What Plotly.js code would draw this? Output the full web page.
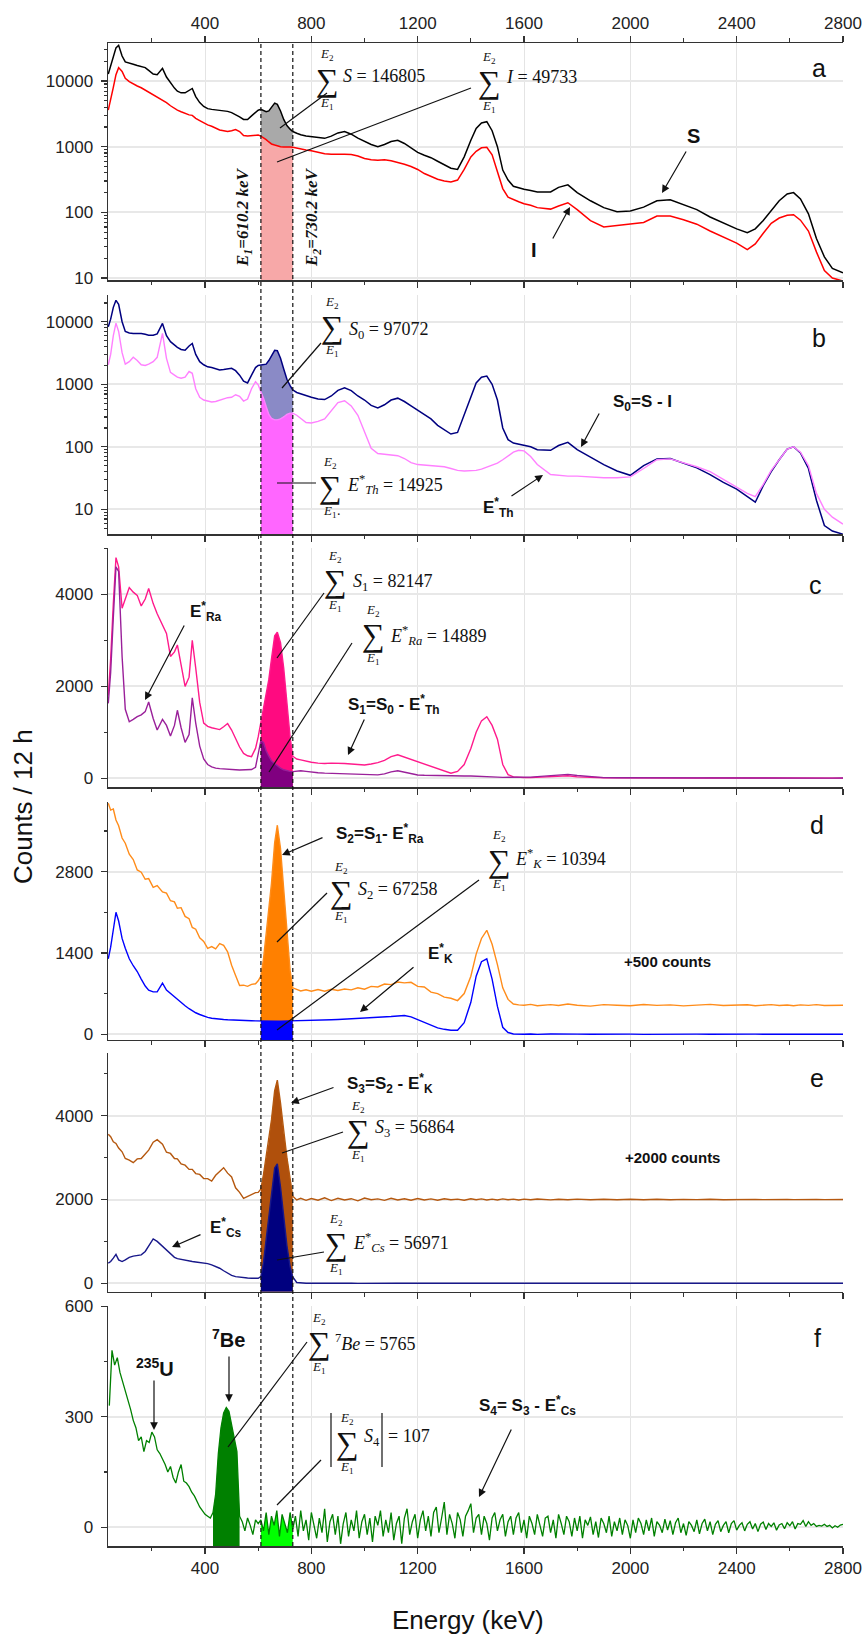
<!DOCTYPE html>
<html><head><meta charset="utf-8">
<script src="https://cdn.plot.ly/plotly-3.0.1.min.js"></script>
<style>html,body{margin:0;padding:0;background:#fff}#chart{width:868px;height:1637px}</style>
</head><body><div id="chart"></div>
<script>
// ---------------- DATA ----------------
const energy = [
 36,45,55,65,75,88,100,115,130,145,
 160,175,188,205,220,240,255,270,285,296,
 310,325,340,352,365,380,395,410,425,440,
 455,470,485,500,515,530,545,560,575,590,
 600,610,620,630,640,650,662,672,684,696,
 708,720,730,745,760,780,800,825,850,875,
 900,925,950,975,1000,1025,1050,1075,1100,1125,
 1150,1175,1200,1225,1250,1275,1300,1325,1350,1375,
 1400,1420,1440,1460,1480,1500,1520,1540,1560,1580,
 1600,1625,1650,1700,1730,1765,1800,1850,1900,1950,
 2000,2050,2100,2150,2200,2250,2300,2350,2400,2440,
 2470,2500,2530,2560,2590,2614,2640,2670,2700,2730,
 2760,2800];

// panel a
const S = [
 12800,17000,25000,32000,35000,24000,19500,18500,18000,17200,
 16800,16000,14500,12800,12500,15600,11500,9300,7800,7000,
 6600,6600,7200,7700,5800,4700,4100,3800,3700,3650,
 3600,3550,3450,3300,3100,2850,2600,2600,2950,3300,
 3600,3700,3500,3400,3500,4000,4600,4400,3500,2600,
 2100,1850,1700,1600,1520,1460,1430,1380,1340,1450,
 1620,1700,1550,1350,1200,1080,1000,1080,1200,1250,
 1120,950,820,740,680,600,530,470,450,700,
 1250,1900,2300,2400,1750,1000,440,310,250,235,
 225,215,205,205,240,262,200,150,118,102,
 105,120,150,155,132,110,85,68,56,49,
 56,75,105,150,190,200,160,95,40,21,
 14,12];
const I = [
 3600,5000,8000,12500,16000,14000,11000,9800,9000,8400,
 7900,7300,6800,6200,5700,5200,4700,4200,3800,3600,
 3400,3200,3050,3000,2700,2500,2300,2150,2050,1900,
 1800,1750,1700,1750,1820,1700,1480,1450,1480,1520,
 1500,1450,1380,1280,1180,1100,1060,1030,1000,990,
 1000,990,980,950,920,890,870,830,780,770,
 775,770,760,720,660,630,620,630,610,580,
 540,500,450,390,350,320,300,290,310,450,
 700,850,960,980,750,420,230,170,155,145,
 135,128,118,112,125,140,110,75,60,63,
 66,70,88,88,77,66,52,42,34,27,
 33,48,68,82,90,92,76,52,25,13,
 10,9];

// panel b
const S0 = [
 8300,11000,17000,22000,19000,10000,7000,6600,6500,6500,
 6500,6300,6100,6100,6400,9400,6000,4800,4200,3900,
 3600,3500,4100,4500,3000,2300,2050,1900,1850,1750,
 1700,1720,1780,1800,1650,1400,1120,1050,1400,1850,
 2000,2050,2050,2100,2400,2900,3500,3450,2600,1750,
 1200,950,810,740,700,660,620,580,570,650,
 800,880,790,650,560,460,420,470,560,600,
 530,450,380,330,280,220,185,160,170,320,
 650,1050,1300,1350,1000,560,200,130,115,110,
 105,100,90,88,105,118,90,68,52,41,
 35,50,64,65,55,46,36,27,21,16,
 13,24,40,62,92,100,80,45,14,5.5,
 4.5,4];
const EThStar = [
 2040,3000,6000,9500,7000,3200,2100,2300,2700,2400,
 2050,2000,2100,2300,2700,6500,2600,1550,1400,1300,
 1250,1300,1600,1500,850,620,560,540,520,530,
 560,590,610,620,680,640,540,580,850,1100,
 980,760,600,440,330,285,270,270,280,300,
 330,345,345,320,285,245,240,255,280,380,
 510,545,450,320,180,95,78,76,75,72,
 65,56,52,51,50,49,48,45,42,41,
 41,42,44,47,50,55,62,72,82,88,
 86,70,52,36,35,34,34,33,32,32,
 33,45,62,64,56,48,40,30,23,18,
 16,25,42,62,92,100,82,50,18,10,
 7.5,5.8];

// panel c
const S1 = [
 1800,2600,3800,4800,4600,3700,3900,4150,4050,3980,
 3750,3900,4130,3800,3580,3350,3150,2650,2750,2900,
 2500,2000,2200,3000,2400,1650,1200,1130,1100,1080,
 1060,1120,1190,1050,850,680,540,490,470,650,
 900,1200,1500,1800,2150,2600,3100,3180,2950,2400,
 1600,900,480,420,400,370,350,330,320,330,
 330,320,310,300,290,310,340,390,470,510,
 460,410,360,300,250,210,150,110,150,300,
 650,1000,1250,1340,1150,850,300,80,30,20,
 15,15,20,30,45,55,30,15,10,8,
 5,6,4,5,7,4,5,6,4,5,
 6,4,5,7,5,6,4,5,3,4,
 3,4];
const ERaStar = [
 1630,2300,3500,4600,4500,2650,1500,1230,1280,1340,
 1380,1450,1660,1300,1050,1280,1150,920,1150,1480,
 1100,780,950,1750,1200,700,420,300,250,220,
 210,200,195,190,185,180,180,180,190,240,
 500,820,780,600,480,380,320,270,220,185,
 160,150,145,160,165,150,130,120,112,108,
 100,95,88,80,75,72,75,95,140,165,
 130,90,72,65,60,58,55,52,50,50,
 50,48,45,42,35,25,20,18,18,20,
 22,25,35,60,80,85,60,30,15,10,
 8,7,6,7,5,6,5,6,5,4,
 5,6,4,5,6,4,5,4,5,4,
 4,5];

// panel d (S2 shown shifted by +500 counts)
const S2plus500 = [
 3980,3860,3880,3690,3590,3380,3290,3100,3010,2830,
 2790,2670,2680,2530,2560,2450,2430,2300,2280,2170,
 2180,2030,1990,1840,1810,1660,1600,1480,1510,1470,
 1560,1530,1420,1190,1010,840,845,825,860,870,
 920,1000,1300,1700,2100,2600,3300,3600,3200,2500,
 1750,1100,800,775,745,765,740,770,740,775,
 755,780,765,800,775,825,815,865,855,900,
 885,895,825,815,725,700,640,620,580,700,
 1000,1380,1650,1790,1550,1200,800,600,520,505,
 500,515,490,510,495,520,500,485,510,500,
 490,512,498,505,488,502,515,495,500,508,
 492,500,510,495,503,490,505,498,510,494,
 502,500];
const EKStar = [
 1300,1500,1800,2100,1950,1650,1480,1300,1180,1080,
 950,830,760,730,730,880,760,700,640,600,
 540,490,440,400,370,340,310,290,275,265,
 262,255,250,245,240,238,236,235,232,230,
 228,226,225,225,224,224,225,225,226,227,
 228,230,232,235,238,240,243,245,248,250,
 255,260,265,270,278,285,290,295,305,315,
 322,300,250,200,150,110,85,68,70,200,
 550,1000,1250,1300,950,480,120,30,5,0,
 0,3,-2,4,0,5,2,-1,3,0,
 2,-2,1,4,0,2,-1,3,0,1,
 2,0,3,-1,2,0,1,3,0,2,
 1,0];

// panel e (S3 shown shifted by +2000 counts)
const S3plus2000 = [
 3560,3500,3380,3340,3230,3140,2980,2940,2880,2970,
 2980,3100,3180,3370,3430,3320,3130,3100,2980,2970,
 2850,2820,2720,2720,2620,2600,2500,2500,2440,2580,
 2680,2760,2630,2540,2280,2170,2030,2075,2105,2165,
 2170,2250,2600,3000,3400,3900,4600,4850,4300,3600,
 3000,2500,2080,1990,2030,1980,2025,1985,2040,1975,
 2030,1990,2020,1970,2035,1995,2015,1980,2030,1990,
 2020,1985,2025,1990,2015,1985,2020,1995,2010,1985,
 2020,1995,2015,1990,2010,1990,2015,1995,2010,1990,
 2010,1995,2012,1992,2008,1996,2010,1994,2008,1995,
 2006,1996,2008,1995,2005,1997,2006,1996,2004,1997,
 2004,1998,2003,1997,2004,1998,2003,1998,2002,1999,
 2002,2000];
const ECsStar = [
 480,520,600,690,560,520,560,620,650,660,
 680,760,900,1060,1000,880,800,700,620,590,
 570,550,530,520,510,500,490,470,440,400,
 360,300,240,190,160,145,135,128,122,120,
 120,160,500,1050,1600,2150,2750,2850,2300,1600,
 900,400,150,20,5,2,0,3,-2,2,
 0,3,1,-1,2,0,3,1,0,2,
 1,0,2,-1,3,0,1,2,0,1,
 2,0,1,3,0,1,-1,2,0,1,
 0,2,1,0,3,1,0,2,1,0,
 1,2,0,1,0,2,1,0,1,2,
 0,1,2,0,1,0,2,1,0,1,
 0,1];

// panel f
const energyF = [
 40,50,60,70,80,90,100,110,120,130,
 140,150,160,170,180,190,200,210,220,230,
 240,250,260,270,280,290,300,310,320,330,
 340,350,360,370,380,390,400,410,420,430,
 440,450,460,470,480,490,500,510,520,530,
 540,550,560,570,580,590,600,610,620,630,
 640,650,660,670,680,690,700,710,720,730,
 740,750,760,770,780,790,800,810,820,830,
 840,850,860,870,880,890,900,910,920,930,
 940,950,960,970,980,990,1000,1010,1020,1030,
 1040,1050,1060,1070,1080,1090,1100,1110,1120,1130,
 1140,1150,1160,1170,1180,1190,1200,1210,1220,1230,
 1240,1250,1260,1270,1280,1290,1300,1310,1320,1330,
 1340,1350,1360,1370,1380,1390,1400,1410,1420,1430,
 1440,1450,1460,1470,1480,1490,1500,1510,1520,1530,
 1540,1550,1560,1570,1580,1590,1600,1610,1620,1630,
 1640,1650,1660,1670,1680,1690,1700,1710,1720,1730,
 1740,1750,1760,1770,1780,1790,1800,1810,1820,1830,
 1840,1850,1860,1870,1880,1890,1900,1910,1920,1930,
 1940,1950,1960,1970,1980,1990,2000,2010,2020,2030,
 2040,2050,2060,2070,2080,2090,2100,2110,2120,2130,
 2140,2150,2160,2170,2180,2190,2200,2210,2220,2230,
 2240,2250,2260,2270,2280,2290,2300,2310,2320,2330,
 2340,2350,2360,2370,2380,2390,2400,2410,2420,2430,
 2440,2450,2460,2470,2480,2490,2500,2510,2520,2530,
 2540,2550,2560,2570,2580,2590,2600,2610,2620,2630,
 2640,2650,2660,2670,2680,2690,2700,2710,2720,2730,
 2740,2750,2760,2770,2780,2790,2800];
const S4 = [
 330,480,440,460,420,395,370,350,320,290,
 270,235,245,205,235,230,258,245,210,200,
 185,170,150,165,135,120,150,170,125,120,
 110,95,85,70,55,45,35,30,25,40,
 90,200,270,310,325,315,280,240,205,30,
 15,-10,25,5,-20,20,10,20,-10,40,
 -20,30,5,45,-25,35,10,-15,40,-5,
 30,-25,45,-10,20,-35,40,5,-30,25,
 -15,50,-40,15,35,-20,30,-45,10,40,
 -25,20,-10,45,-30,15,35,-20,25,-40,
 30,5,45,-25,20,-15,40,-35,10,30,
 -45,25,50,-20,15,35,-30,20,45,-10,
 30,-25,40,55,-15,25,68,-20,35,10,
 -30,40,20,-25,30,45,64,-15,25,35,
 -20,30,10,-35,25,40,-10,20,35,-25,
 15,30,-20,25,40,-15,20,-30,30,10,
 -20,35,5,-25,25,30,-15,20,-30,35,
 10,-20,30,15,-25,25,-10,30,-30,20,
 5,28,-20,15,-28,25,10,-15,30,-25,
 15,-10,25,-20,20,5,-30,20,-15,25,
 10,-20,20,-10,25,-25,15,5,-15,22,
 -8,18,-20,12,25,-15,10,-22,15,5,
 -12,20,-18,10,22,-10,15,-20,8,18,
 -12,5,15,-15,10,18,-8,5,12,-10,
 8,15,-5,10,-12,8,14,-6,10,2,
 12,-8,6,10,-4,12,4,15,-5,10,
 8,18,2,15,5,10,2,5,3,8,
 2,5,-2,4,0,6,8];

const E1 = 610.2, E2 = 730.2;           // integration window (keV)
const BE7_LO = 430, BE7_HI = 530;       // 7Be peak region shaded in panel f

// ---------------- checks ----------------
[['S',S],['I',I],['S0',S0],['EThStar',EThStar],['S1',S1],['ERaStar',ERaStar],['S2plus500',S2plus500],['EKStar',EKStar],['S3plus2000',S3plus2000],['ECsStar',ECsStar]].forEach(([n,a])=>{ if(a.length!==energy.length) throw new Error(n+' length '+a.length+' vs '+energy.length); });
if (S4.length !== energyF.length) throw new Error('S4 length '+S4.length+' vs '+energyF.length);

// ---------------- styling / layout ----------------
const FONT = 'Liberation Sans, Arial, Helvetica, sans-serif';
const SERIF = 'Liberation Serif, Times New Roman, DejaVu Serif, serif';
const L = 108, R = 843, T = 43, B = 1546;
const PX = px => (px - L) / (R - L);
const PY = py => (B - py) / (B - T);

const yr = { a:[0.9695,4.579], b:[0.605,4.427], c:[-196,5010], d:[-98,4005], e:[-200,5505], f:[-51,600.5] };
const dom = { a:[0.8423,1], b:[0.6733,0.8323], c:[0.5048,0.6640], d:[0.3367,0.4952], e:[0.1692,0.3282], f:[0,0.1597] };
const ids = { a:1, b:2, c:3, d:4, e:5, f:6 };
const xid = p => ids[p]===1 ? 'x' : 'x'+ids[p];
const yid = p => ids[p]===1 ? 'y' : 'y'+ids[p];

const traces = [];
function win(xs, ys, lo, hi){ const X=[],Y=[]; xs.forEach((e,i)=>{ if(e>=lo && e<=hi){X.push(e);Y.push(ys[i]);} }); return {X,Y}; }
function fillBetween(p, xs, top, bot, lo, hi, color){
  const t = win(xs, top, lo, hi), b = win(xs, bot, lo, hi);
  traces.push({type:'scatter', mode:'lines', x:t.X.concat(b.X.slice().reverse()), y:t.Y.concat(b.Y.slice().reverse()),
    fill:'toself', fillcolor:color, line:{width:0, color:color}, xaxis:xid(p), yaxis:yid(p), hoverinfo:'skip'});
}
function fillToBase(p, xs, top, base, lo, hi, color){
  const t = win(xs, top, lo, hi);
  traces.push({type:'scatter', mode:'lines', x:t.X.concat(t.X.slice().reverse()), y:t.Y.concat(t.X.map(()=>base)),
    fill:'toself', fillcolor:color, line:{width:0, color:color}, xaxis:xid(p), yaxis:yid(p), hoverinfo:'skip'});
}
function line(p, xs, ys, color, w){
  traces.push({type:'scatter', mode:'lines', x:xs, y:ys, line:{color:color, width:w}, xaxis:xid(p), yaxis:yid(p), hoverinfo:'skip'});
}
const lo = Math.floor(E1), hi = Math.floor(E2);
const baseLog = p => Math.pow(10, yr[p][0]);

// a
fillToBase('a', energy, I, baseLog('a'), lo, hi, '#f7a8a8');
fillBetween('a', energy, S, I, lo, hi, '#a9a9a9');
line('a', energy, I, '#ff0000', 1.5);
line('a', energy, S, '#000000', 1.5);
// b
fillToBase('b', energy, EThStar, baseLog('b'), lo, hi, '#ff66ff');
fillBetween('b', energy, S0, EThStar, lo, hi, '#8a8ac6');
line('b', energy, S0, '#000080', 1.5);
line('b', energy, EThStar, '#ff80ff', 1.4);
// c
fillToBase('c', energy, S1, yr.c[0], lo, hi, '#ff0a80');
fillToBase('c', energy, ERaStar, yr.c[0], lo, hi, '#800080');
line('c', energy, S1, '#ff1a8c', 1.4);
line('c', energy, ERaStar, '#9a209a', 1.4);
// d
fillToBase('d', energy, S2plus500, yr.d[0], lo, hi, '#ff8000');
fillToBase('d', energy, EKStar, yr.d[0], lo, hi, '#0000ff');
line('d', energy, S2plus500, '#ff8c1a', 1.4);
line('d', energy, EKStar, '#0000ff', 1.4);
// e
fillToBase('e', energy, S3plus2000, yr.e[0], lo, hi, '#b0500c');
fillToBase('e', energy, ECsStar, yr.e[0], lo, hi, '#00007f');
line('e', energy, S3plus2000, '#b5580f', 1.4);
line('e', energy, ECsStar, '#18188a', 1.4);
// f
fillToBase('f', energyF, S4, yr.f[0], BE7_LO, BE7_HI, '#008000');
fillToBase('f', energyF, S4, yr.f[0], lo, hi, '#00ff00');
line('f', energyF, S4, '#008000', 1.3);
// dummy trace for the top energy axis of panel a
traces.push({type:'scatter', mode:'lines', x:[], y:[], xaxis:'x7', yaxis:'y', hoverinfo:'skip'});

const TICKFONT = {family:FONT, size:17, color:'#222'};
function xax(extra){
  return Object.assign({range:[35,2800], tickmode:'linear', tick0:0, dtick:400, ticks:'outside', ticklen:6, tickwidth:1.2, tickcolor:'#333',
    minor:{dtick:200, tick0:0, ticks:'outside', ticklen:3.5, tickwidth:1, tickcolor:'#333', showgrid:false},
    showline:true, linecolor:'#333', linewidth:1.5, showgrid:true, gridcolor:'#e4e4e4', gridwidth:1, zeroline:false,
    showticklabels:false, tickfont:TICKFONT, fixedrange:true}, extra);
}
function yax(p, extra){
  return Object.assign({domain:dom[p], range:yr[p], anchor:xid(p), ticks:'outside', ticklen:6, tickwidth:1.2, tickcolor:'#333',
    showline:true, linecolor:'#333', linewidth:1.5, showgrid:true, gridcolor:'#e8e8e8', gridwidth:2, zeroline:false,
    tickfont:TICKFONT, fixedrange:true, ticklabelstandoff:4}, extra);
}
const logMinor = {dtick:'D1', ticks:'outside', ticklen:3, tickcolor:'#333', showgrid:false};
const layout = {
  width:868, height:1637, margin:{l:L, r:868-R, t:T, b:1637-B}, paper_bgcolor:'#fff', plot_bgcolor:'#fff', showlegend:false,
  font:{family:FONT, size:17, color:'#222'},
  xaxis: xax({anchor:'y'}),
  xaxis2: xax({anchor:'y2', matches:'x'}),
  xaxis3: xax({anchor:'y3', matches:'x'}),
  xaxis4: xax({anchor:'y4', matches:'x'}),
  xaxis5: xax({anchor:'y5', matches:'x'}),
  xaxis6: xax({anchor:'y6', matches:'x', showticklabels:true}),
  xaxis7: xax({anchor:'y', overlaying:'x', side:'top', showticklabels:true, showgrid:false}),
  yaxis:  yax('a', {type:'log', tickmode:'linear', tick0:0, dtick:1, tickformat:'d', minor:logMinor}),
  yaxis2: yax('b', {type:'log', tickmode:'linear', tick0:0, dtick:1, tickformat:'d', minor:logMinor}),
  yaxis3: yax('c', {tickmode:'linear', tick0:0, dtick:2000, minor:{dtick:1000, ticks:'outside', ticklen:3, tickcolor:'#333', showgrid:false}}),
  yaxis4: yax('d', {tickmode:'linear', tick0:0, dtick:1400, minor:{dtick:700, ticks:'outside', ticklen:3, tickcolor:'#333', showgrid:false}}),
  yaxis5: yax('e', {tickmode:'linear', tick0:0, dtick:2000, minor:{dtick:1000, ticks:'outside', ticklen:3, tickcolor:'#333', showgrid:false}}),
  yaxis6: yax('f', {tickmode:'linear', tick0:0, dtick:300, minor:{dtick:150, ticks:'outside', ticklen:3, tickcolor:'#333', showgrid:false}}),
  shapes: [], annotations: []
};

// dashed E1 / E2 lines through all panels
[E1, E2].forEach(e => layout.shapes.push({type:'line', xref:'x', yref:'paper', x0:e, x1:e, y0:0, y1:1,
  line:{color:'#111', width:1.2, dash:'4px,3px'}, layer:'above'}));

// leader lines (no heads)
function lead(x0,y0,x1,y1){ layout.shapes.push({type:'line', xref:'paper', yref:'paper', x0:PX(x0), y0:PY(y0), x1:PX(x1), y1:PY(y1), line:{color:'#111', width:1.2}, layer:'above'}); }
lead(327,93,280,128); lead(471,88,277,162);
lead(321,343,282,388); lead(277,483,316,483);
lead(324,593,277,658); lead(352,643,269,772);
lead(327,893,277,942); lead(479,880,277,1030);
lead(343,1132,282,1153); lead(324,1252,277,1260);
lead(307,1342,228,1447); lead(321,1460,277,1505);
// |...| bars
lead(331,1413,331,1467); lead(382,1413,382,1467);

const A = layout.annotations;
function txt(px, py, text, font, extra){ A.push(Object.assign({xref:'paper', yref:'paper', x:PX(px), y:PY(py), text:text, showarrow:false, xanchor:'center', yanchor:'middle', font:font}, extra||{})); }
function arrow(fx, fy, tx, ty){ A.push({xref:'paper', yref:'paper', x:PX(tx), y:PY(ty), ax:fx-tx, ay:fy-ty, text:'', showarrow:true, arrowhead:2, arrowsize:1.3, arrowwidth:1.2, arrowcolor:'#111', standoff:0}); }
const SIGF = {family:SERIF, size:32, color:'#111'};
const LIMF = {family:SERIF, size:13, color:'#111'};
const RHSF = {family:SERIF, size:18, color:'#111'};
function sum(sx, sy, rx, ry, rhs){
  txt(sx, sy, '∑', SIGF);
  txt(sx, sy-25, '<i>E</i><sub>2</sub>', LIMF);
  txt(sx, sy+24, '<i>E</i><sub>1</sub>', LIMF);
  if (rhs) txt(rx, ry, rhs, RHSF, {xanchor:'left'});
}
sum(327, 80, 341, 76, '<i>S</i> = 146805');
sum(489, 82, 504, 77, '<i>I</i> = 49733');
sum(332, 327, 347, 331, '<i>S</i><sub>0</sub> = 97072');
sum(330, 487, 345, 484, '<i>E</i><sup>*</sup><sub><i>Th</i></sub> = 14925');
txt(339, 510, '.', {family:SERIF, size:14, color:'#111'});
sum(335, 581, 351, 582, '<i>S</i><sub>1</sub> = 82147');
sum(373, 635, 388, 635, '<i>E</i><sup>*</sup><sub><i>Ra</i></sub> = 14889');
sum(341, 892, 356, 890, '<i>S</i><sub>2</sub> = 67258');
sum(499, 861, 513, 858, '<i>E</i><sup>*</sup><sub><i>K</i></sub> = 10394');
sum(358, 1131, 373, 1128, '<i>S</i><sub>3</sub> = 56864');
sum(336, 1244, 351, 1242, '<i>E</i><sup>*</sup><sub><i>Cs</i></sub> = 56971');
sum(319, 1343, 333, 1342, '<sup>7</sup><i>Be</i> = 5765');
sum(347, 1443, 0, 0, '');
txt(362, 1437, '<i>S</i><sub>4</sub>', RHSF, {xanchor:'left'});
txt(386, 1436, '= 107', RHSF, {xanchor:'left'});

// rotated window labels
const ROTF = {family:SERIF, size:17, color:'#111'};
txt(244, 217, '<b><i>E<sub>1</sub>=610.2 keV</i></b>', ROTF, {textangle:-90});
txt(313, 217, '<b><i>E<sub>2</sub>=730.2 keV</i></b>', ROTF, {textangle:-90});

// panel letters
const LETF = {family:FONT, size:25, color:'#111'};
txt(819, 68, 'a', LETF); txt(819, 338, 'b', LETF); txt(815, 585, 'c', LETF);
txt(817, 825, 'd', LETF); txt(817, 1078, 'e', LETF); txt(817, 1338, 'f', LETF);

// bold labels with arrows
const BF = {family:FONT, size:17, color:'#111'};
const BF2 = {family:FONT, size:20, color:'#111'};
txt(693, 136, '<b>S</b>', BF2); arrow(687, 150, 662, 193);
txt(534, 250, '<b>I</b>', BF2); arrow(552, 240, 570, 207);
txt(642, 403, '<b>S<sub>0</sub>=S - I</b>', BF); arrow(600, 412, 581, 447);
txt(498, 508, '<b>E<sup>*</sup><sub>Th</sub></b>', BF); arrow(510, 497, 543, 475);
txt(206, 611, '<b>E<sup>*</sup><sub>Ra</sub></b>', BF); arrow(185, 624, 145, 700);
txt(394, 704, '<b>S<sub>1</sub>=S<sub>0</sub> - E<sup>*</sup><sub>Th</sub></b>', BF); arrow(365, 718, 348, 755);
txt(380, 833, '<b>S<sub>2</sub>=S<sub>1</sub>- E<sup>*</sup><sub>Ra</sub></b>', BF); arrow(324, 837, 282, 855);
txt(440, 953, '<b>E<sup>*</sup><sub>K</sub></b>', BF); arrow(415, 966, 360, 1012);
txt(667, 962, '<b>+500 counts</b>', {family:FONT, size:15, color:'#111'});
txt(390, 1083, '<b>S<sub>3</sub>=S<sub>2</sub> - E<sup>*</sup><sub>K</sub></b>', BF); arrow(335, 1087, 291, 1103);
txt(672, 1157, '<b>+2000 counts</b>', {family:FONT, size:15, color:'#111'});
txt(226, 1227, '<b>E<sup>*</sup><sub>Cs</sub></b>', BF); arrow(202, 1234, 172, 1247);
txt(228, 1338, '<b><sup>7</sup>Be</b>', BF2); arrow(229, 1355, 229, 1402);
txt(155, 1367, '<b><sup>235</sup>U</b>', BF2); arrow(154, 1379, 154, 1430);
txt(527, 1405, '<b>S<sub>4</sub>= S<sub>3</sub> - E<sup>*</sup><sub>Cs</sub></b>', BF); arrow(512, 1428, 479, 1497);

// axis titles
txt(23, 807, 'Counts / 12 h', {family:FONT, size:26, color:'#111'}, {textangle:-90});
txt(468, 1620, 'Energy (keV)', {family:FONT, size:26, color:'#111'});

Plotly.newPlot('chart', traces, layout, {displayModeBar:false, staticPlot:true});
</script>
</body></html>
